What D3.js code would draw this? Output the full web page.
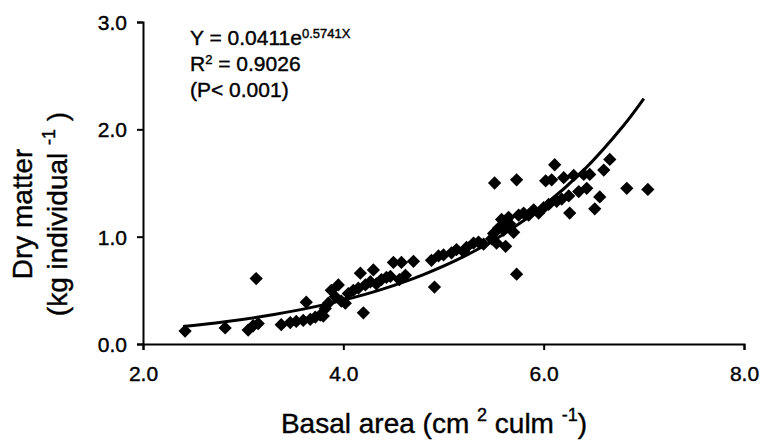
<!DOCTYPE html>
<html>
<head>
<meta charset="utf-8">
<script src="https://cdn.jsdelivr.net/npm/d3@7"></script>
<style>
  body { margin: 0; background: #fff; }
  text { font-family: "Liberation Sans", Arial, sans-serif; fill: #000; stroke: #000; stroke-width: 0.4px; }
</style>
</head>
<body>
<div id="chart"></div>
<script>
// basal area (cm2 culm-1) and dry matter (kg individual-1)
var basalArea = [2.42, 2.82, 3.05, 3.10, 3.13, 3.15, 3.38, 3.47, 3.53, 3.60,
  3.63, 3.67, 3.72, 3.77, 3.80, 3.82, 3.85, 3.88, 3.92, 3.95,
  3.98, 4.02, 4.05, 4.10, 4.15, 4.17, 4.20, 4.22, 4.27, 4.30,
  4.33, 4.38, 4.43, 4.47, 4.50, 4.56, 4.58, 4.62, 4.70, 4.88,
  4.91, 4.95, 5.00, 5.08, 5.13, 5.20, 5.23, 5.30, 5.35, 5.40,
  5.48, 5.50, 5.51, 5.53, 5.55, 5.58, 5.60, 5.62, 5.65, 5.66,
  5.70, 5.73, 5.73, 5.75, 5.80, 5.85, 5.90, 5.95, 6.00, 6.02,
  6.05, 6.08, 6.11, 6.13, 6.18, 6.20, 6.25, 6.26, 6.30, 6.35,
  6.40, 6.43, 6.46, 6.51, 6.56, 6.60, 6.66, 6.83, 7.04];
var dryMatter = [0.12, 0.15, 0.13, 0.17, 0.61, 0.19, 0.18, 0.20, 0.21, 0.22,
  0.39, 0.23, 0.25, 0.27, 0.26, 0.33, 0.38, 0.50, 0.44, 0.55,
  0.40, 0.38, 0.47, 0.50, 0.52, 0.66, 0.29, 0.55, 0.58, 0.69,
  0.56, 0.60, 0.62, 0.63, 0.76, 0.60, 0.76, 0.64, 0.77, 0.78,
  0.53, 0.82, 0.83, 0.85, 0.88, 0.86, 0.90, 0.94, 0.95, 0.93,
  0.98, 1.03, 1.50, 0.94, 1.08, 1.16, 1.06, 0.91, 1.18, 1.12,
  1.04, 1.53, 0.65, 1.20, 1.22, 1.20, 1.25, 1.22, 1.27, 1.52,
  1.30, 1.53, 1.67, 1.33, 1.35, 1.55, 1.38, 1.22, 1.57, 1.42,
  1.58, 1.45, 1.58, 1.26, 1.37, 1.62, 1.72, 1.45, 1.44];

// printed fit Y = a * e^(b X), drawn over the observed range
var fitCoef = [0.0411, 0.5741];
var fitX = [2.4, 2.8, 3.2, 3.6, 4.0, 4.4, 4.8, 5.2, 5.6, 6.0, 6.4, 6.8, 7.0];

var xTicks = [2, 4, 6, 8];
var yTicks = [0, 1, 2, 3];

var width = 764, height = 446;

var svg = d3.select("#chart").append("svg")
    .attr("width", width)
    .attr("height", height);

var x = d3.scaleLinear().domain([2, 8]).range([143, 744]);
var y = d3.scaleLinear().domain([0, 3]).range([344, 22]);

// axes
var xAxis = svg.append("g")
    .attr("transform", "translate(0," + y(0) + ")")
    .call(d3.axisBottom(x).tickValues(xTicks).tickFormat(d3.format(".1f"))
      .tickSizeOuter(0).tickSize(6).tickPadding(20));
var yAxis = svg.append("g")
    .attr("transform", "translate(" + x(2) + ",0)")
    .call(d3.axisLeft(y).tickValues(yTicks).tickFormat(d3.format(".1f"))
      .tickSizeOuter(0).tickSize(6).tickPadding(10));

[xAxis, yAxis].forEach(function(a) {
  a.select(".domain").attr("stroke", "#000").attr("stroke-width", 2);
  a.selectAll(".tick line").attr("stroke", "#000").attr("stroke-width", 2);
  a.selectAll(".tick text").style("font-size", "21px").attr("fill", "#000");
});
yAxis.selectAll(".tick text").attr("dy", "0.35em");
xAxis.selectAll(".tick text").attr("dy", "0.5em");

// points
var pts = basalArea.map(function(d, i) { return { x: d, y: dryMatter[i] }; });
var diamond = d3.symbol().type(d3.symbolSquare).size(88);

svg.append("g").selectAll("path")
    .data(pts)
    .enter().append("path")
    .attr("d", diamond)
    .attr("transform", function(d) {
      return "translate(" + x(d.x) + "," + y(d.y) + ") rotate(45)";
    })
    .attr("fill", "#000");

// fitted curve
var line = d3.line()
    .x(function(d) { return x(d); })
    .y(function(d) { return y(fitCoef[0] * Math.exp(fitCoef[1] * d)); })
    .curve(d3.curveCatmullRom);

svg.append("path")
    .datum(fitX)
    .attr("d", line)
    .attr("fill", "none")
    .attr("stroke", "#000")
    .attr("stroke-width", 3);

// equation text
var eq = svg.append("g").style("font-size", "21px");
var t1 = eq.append("text").attr("x", 190).attr("y", 45);
t1.append("tspan").text("Y = 0.0411e");
t1.append("tspan").attr("dy", -7).style("font-size", "13px").text("0.5741X");
var t2 = eq.append("text").attr("x", 190).attr("y", 71);
t2.append("tspan").text("R");
t2.append("tspan").attr("dy", -7).style("font-size", "13px").text("2");
t2.append("tspan").attr("dy", 7).text(" = 0.9026");
eq.append("text").attr("x", 190).attr("y", 97).text("(P< 0.001)");

// axis titles
var xt = svg.append("text")
    .attr("x", 434).attr("y", 433)
    .attr("text-anchor", "middle")
    .style("font-size", "28px");
xt.append("tspan").text("Basal area (cm ");
xt.append("tspan").attr("dy", -12).style("font-size", "18px").text("2");
xt.append("tspan").attr("dy", 12).text(" culm ");
xt.append("tspan").attr("dy", -12).style("font-size", "18px").text("-1");
xt.append("tspan").attr("dy", 12).text(")");

var yt = svg.append("g")
    .attr("transform", "translate(0,214) rotate(-90)")
    .style("font-size", "28px");
yt.append("text").attr("x", 0).attr("y", 32)
    .attr("text-anchor", "middle").text("Dry matter");
var yt2 = yt.append("text").attr("x", 0).attr("y", 67)
    .attr("text-anchor", "middle");
yt2.append("tspan").text("(kg individual ");
yt2.append("tspan").attr("dy", -12).style("font-size", "18px").text("-1");
yt2.append("tspan").attr("dy", 12).text("   )");
</script>
</body>
</html>
